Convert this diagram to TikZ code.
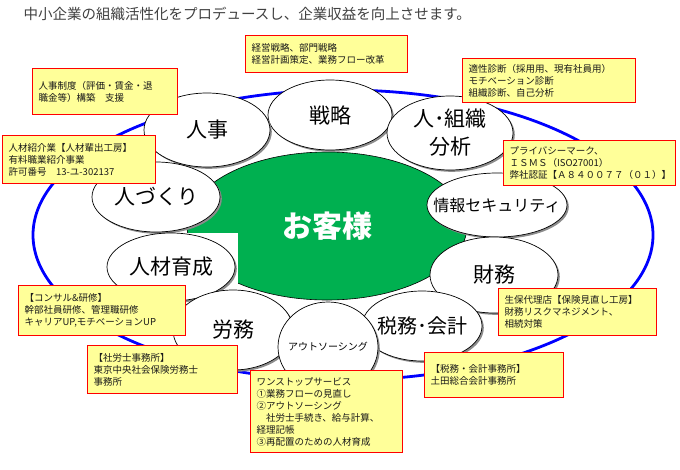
\documentclass[tikz,border=0pt]{standalone}
\usepackage{fontspec}
\setmainfont{Noto Sans CJK JP}
\usepackage{xcolor}
\usepackage{tikz}
\usetikzlibrary{shapes.geometric, shadows}

\definecolor{kyakugreen}{RGB}{0,176,80}
\definecolor{memoyellow}{RGB}{255,255,153}

\begin{document}
\begin{tikzpicture}[x=1pt, y=-1pt,
  ringnode/.style  = {ellipse, draw=blue, line width=2.8pt, inner sep=0pt,
                      minimum width=620pt, minimum height=290pt},
  kyakunode/.style = {ellipse, draw=black, line width=0.6pt, fill=kyakugreen,
                      minimum width=280pt, minimum height=148pt, text=white,
                      font=\fontsize{30}{30}\selectfont\bfseries},
  fieldnode/.style = {ellipse, draw=black, line width=0.7pt, fill=white,
                      inner sep=0pt,
                      drop shadow={shadow xshift=1.8pt, shadow yshift=-1.8pt,
                                   fill=black!45, opacity=1}},
  fieldtxt/.style  = {font=\fontsize{21}{28}\selectfont, align=center,
                      inner sep=0pt},
  memobox/.style   = {draw=red, line width=1.2pt, fill=memoyellow,
                      anchor=north west, align=left, inner xsep=6pt,
                      inner ysep=0pt, text=black!90,
                      font=\fontsize{9.5}{12}\selectfont},
  titletxt/.style  = {anchor=west, text=black!75,
                      font=\fontsize{14.5}{16}\selectfont},
]
\useasboundingbox (0,0) rectangle (680,469);

%% ── Heading ───────────────────────────────────────────────────────
\node[titletxt] (title) at (20, 14)
  {中小企業の組織活性化をプロデュースし、企業収益を向上させます。};

%% ── Outer ring and customer ───────────────────────────────────────
\node[ringnode]  (ring)  at (343, 235) {};
\node[kyakunode] (kyaku) at (327, 226) {お客様};
\fill[white] (187, 233) rectangle (238, 292);

%% ── Fields round the customer ─────────────────────────────────────
\node[fieldnode, minimum width=124pt, minimum height=70pt,
      label={[fieldtxt]center:戦略}] (senryaku) at (330, 115) {};
\node[fieldnode, minimum width=126pt, minimum height=74pt,
      label={[fieldtxt]center:人事}] (jinji) at (207, 130) {};
\node[fieldnode, minimum width=126pt, minimum height=74pt,
      label={[fieldtxt]center:{人･組織\\分析}}] (soshiki) at (450, 133) {};
\node[fieldnode, minimum width=128pt, minimum height=70pt,
      label={[fieldtxt]center:人づくり}] (hitozukuri) at (156, 197) {};
\node[fieldnode, minimum width=140pt, minimum height=64pt,
      label={[fieldtxt, font=\fontsize{16}{18}\selectfont]center:情報セキュリティ}]
      (joho) at (497, 205) {};
\node[fieldnode, minimum width=128pt, minimum height=68pt,
      label={[fieldtxt]center:人材育成}] (jinzai) at (171, 267) {};
\node[fieldnode, minimum width=128pt, minimum height=76pt,
      label={[fieldtxt]center:財務}] (zaimu) at (494, 275) {};
\node[fieldnode, minimum width=120pt, minimum height=80pt,
      label={[fieldtxt]center:労務}] (romu) at (233, 330) {};
\node[fieldnode, minimum width=120pt, minimum height=70pt,
      label={[fieldtxt, font=\fontsize{20}{22}\selectfont]center:税務･会計}]
      (zeimu) at (422, 326) {};
\node[fieldnode, minimum width=100pt, minimum height=90pt,
      label={[fieldtxt, font=\fontsize{10}{12}\selectfont]center:アウトソーシング}]
      (outsrc) at (328, 347) {};

%% ── Memo boxes ────────────────────────────────────────────────────
\node[memobox, text width=150pt, minimum height=37pt] (senryakumemo) at (245, 35)
  {経営戦略、部門戦略\\経営計画策定、業務フロー改革};
\node[memobox, text width=161pt, minimum height=44pt] (soshikimemo) at (462, 58)
  {適性診断（採用用、現有社員用）\\モチベーション診断\\組織診断、自己分析};
\node[memobox, text width=133pt, minimum height=46pt] (jinjimemo) at (32, 68)
  {人事制度（評価・賃金・退\\職金等）構築　支援};
\node[memobox, text width=141pt, minimum height=48pt] (shokaimemo) at (2, 135)
  {人材紹介業【人材輩出工房】\\有料職業紹介事業\\許可番号　13-ユ-302137};
\node[memobox, text width=160pt, minimum height=45pt] (johomemo) at (503, 140)
  {プライバシーマーク、\\ＩＳＭＳ（ISO27001）\\弊社認証【Ａ８４００７７（０１）】};
\node[memobox, text width=155pt, minimum height=50pt] (kenshumemo) at (18, 285)
  {【コンサル\&研修】\\幹部社員研修、管理職研修\\キャリアUP,モチベーションUP};
\node[memobox, text width=146pt, minimum height=47pt] (zaimumemo) at (498, 288)
  {生保代理店【保険見直し工房】\\財務リスクマネジメント、\\相続対策};
\node[memobox, text width=138pt, minimum height=48pt] (romumemo) at (87, 345)
  {【社労士事務所】\\東京中央社会保険労務士\\事務所};
\node[memobox, text width=140pt, minimum height=82pt] (outsrcmemo) at (250, 370)
  {ワンストップサービス\\①業務フローの見直し\\②アウトソーシング\\
   　社労士手続き、給与計算、\\経理記帳\\③再配置のための人材育成};
\node[memobox, text width=127pt, minimum height=45pt] (zeimumemo) at (424, 352)
  {【税務・会計事務所】\\土田総合会計事務所};

\end{tikzpicture}
\end{document}
